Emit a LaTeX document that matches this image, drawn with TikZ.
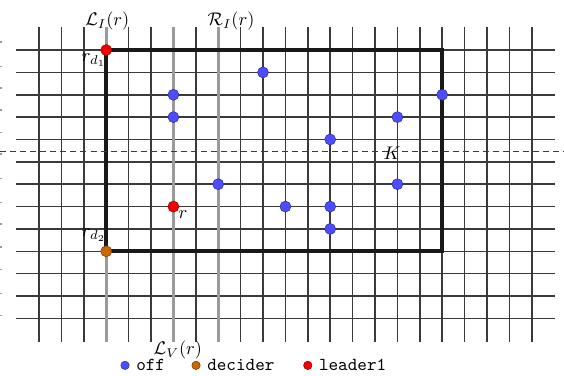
\documentclass[tikz,border=0pt]{standalone}
\usepackage{tikz}
\usetikzlibrary{positioning, calc}
\usepackage{amsmath, amssymb}
\definecolor{offblue}{HTML}{4D4DFF}
\definecolor{deciderorange}{HTML}{CC6600}
\definecolor{leaderred}{HTML}{F50000}
\definecolor{gridgray}{HTML}{3A3A3A}
\definecolor{axisgray}{HTML}{9A9A9A}

\begin{document}
\begin{tikzpicture}[
  x=12.25pt, y=12.23pt,
  gridline/.style={draw=gridgray, line width=0.85pt},
  axisline/.style={draw=axisgray, line width=1.6pt},
  boundary/.style={draw=black!90, line width=2pt},
  cutline/.style={draw=gridgray, line width=0.5pt, dash pattern=on 3.3pt off 2.2pt},
  robot/.style={circle, inner sep=0pt, minimum size=6pt, line width=0.3pt},
  off/.style={robot, fill=offblue, draw=offblue!60!black},
  decider/.style={robot, fill=deciderorange, draw=deciderorange!60!black},
  leader/.style={robot, fill=leaderred, draw=leaderred!60!black},
  legdot/.style={minimum size=4.6pt},
  lbl/.style={inner sep=0pt},
  legtext/.style={font=\ttfamily, inner sep=0pt},
]
  \useasboundingbox (-1.741,-14.575) rectangle (23.438,2.237);

  % grid
  \foreach \i in {0,...,22}
    \draw[gridline] (\i,1.03) -- (\i,-13.06);
  \foreach \j in {0,...,12}
    \draw[gridline] (-1.03,-\j) -- (23.04,-\j);
  \foreach \t in {0.36,-0.72,-1.7,-2.68,-3.67,-4.65,-5.73,-6.8,-7.78,-8.81,-9.8,-10.87,-11.86}
    \draw[axisgray, line width=0.6pt] (-1.741,\t) -- (-1.64,\t);

  % lines of r
  \foreach \i in {3,6,8}
    \draw[axisline] (\i,1.03) -- (\i,-13.06);

  % box spanned by the two deciders
  \coordinate (tl) at (3,0);
  \coordinate (br) at (18,-9);
  \draw[boundary] (tl) rectangle (br);
  \draw[cutline] (-1.741,-4.55) -- (23.438,-4.55);

  % robots
  \node[off] (o1) at (10,-1) {};
  \node[off] (o2) at (6,-2) {};
  \node[off] (o3) at (6,-3) {};
  \node[off] (o4) at (18,-2) {};
  \node[off] (o5) at (16,-3) {};
  \node[off] (o6) at (13,-4) {};
  \node[off] (o7) at (16,-6) {};
  \node[off] (o8) at (8,-6) {};
  \node[off] (o9) at (11,-7) {};
  \node[off] (o10) at (13,-7) {};
  \node[off] (o11) at (13,-8) {};
  \node[leader] (d1) at (tl) {};
  \node[leader] (r) at (6,-7) {};
  \node[decider] (d2) at (3,-9) {};

  % labels
  \node[lbl] (LI) at (3.05,1.3) {$\mathcal{L}_I(r)$};
  \node[lbl] (RI) at (8.57,1.3) {$\mathcal{R}_I(r)$};
  \node[lbl] (LV) at (6.2,-13.42) {$\mathcal{L}_V(r)$};
  \node[lbl] (d1lbl) at (2.45,-0.45) {$r_{d_1}$};
  \node[lbl] (d2lbl) at (2.45,-8.28) {$r_{d_2}$};
  \node[lbl] (rlbl) at (6.43,-7.38) {$r$};
  \node[lbl] (K) at (15.76,-4.6) {$K$};

  % legend
  \node[off, legdot] (legoff) at (3.84,-14.1) {};
  \node[legtext, right=3.5pt of legoff] (legofftxt) {off};
  \node[decider, legdot] (legdec) at (7.01,-14.1) {};
  \node[legtext, right=3.5pt of legdec] (legdectxt) {decider};
  \node[leader, legdot] (leglead) at (12.0,-14.1) {};
  \node[legtext, right=3.5pt of leglead] (legleadtxt) {leader1};
\end{tikzpicture}
\end{document}
